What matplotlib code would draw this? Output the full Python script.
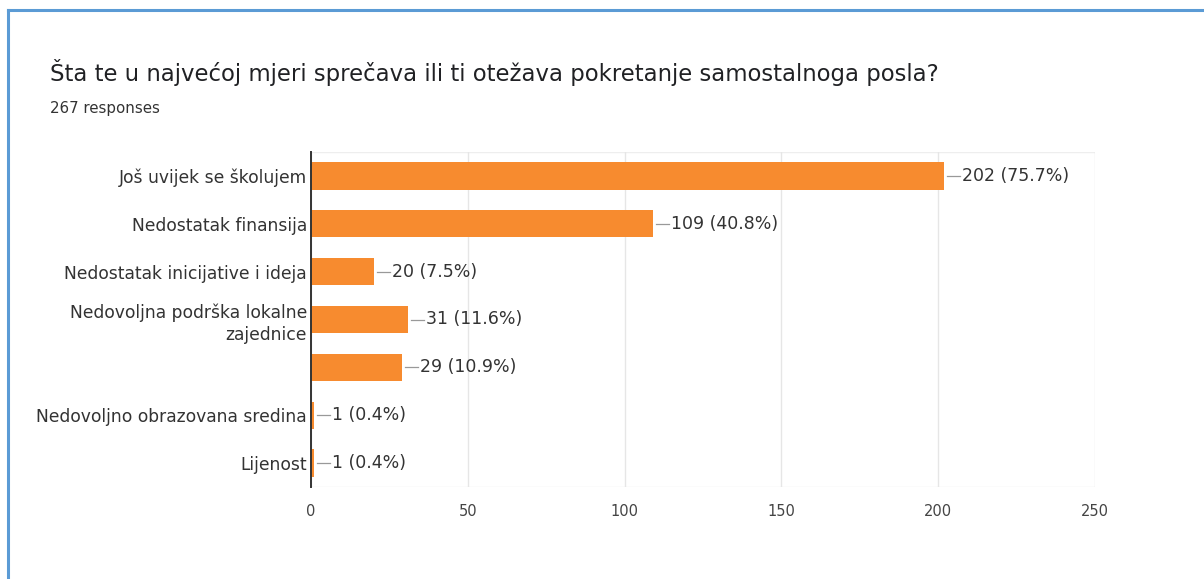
import matplotlib.pyplot as plt
from matplotlib.lines import Line2D

plt.rcParams["font.family"] = ["DejaVu Sans"]

categories = [
    "Još uvijek se školujem",
    "Nedostatak finansija",
    "Nedostatak inicijative i ideja",
    "Nedovoljna podrška lokalne\nzajednice",
    "",
    "Nedovoljno obrazovana sredina",
    "Lijenost",
]
counts = [202, 109, 20, 31, 29, 1, 1]
percents = [75.7, 40.8, 7.5, 11.6, 10.9, 0.4, 0.4]
x_ticks = [0, 50, 100, 150, 200, 250]

W, H = 1204, 579
fig = plt.figure(figsize=(W / 100, H / 100), dpi=100)

# card border (left + top only visible)
fig.add_artist(Line2D([8 / W, 8 / W], [0, 1 - 10 / H], color="#5b9bd5", lw=2.2))
fig.add_artist(Line2D([8 / W, 1], [1 - 10 / H, 1 - 10 / H], color="#5b9bd5", lw=2.2))

fig.text(50 / W, 1 - 73 / H, "Šta te u najvećoj mjeri sprečava ili ti otežava pokretanje samostalnoga posla?",
         fontsize=16.4, color="#202124", va="center", ha="left")
fig.text(50 / W, 1 - 108 / H, "267 responses", fontsize=10.8, color="#333333", va="center", ha="left")

left, right = 311 / W, 1095 / W
top, bottom = 1 - 152 / H, 1 - 487 / H
ax = fig.add_axes([left, bottom, right - left, top - bottom])

y = list(range(len(categories)))
ax.barh(y, counts, height=0.57, color="#f78b2f", zorder=3)
ax.set_ylim(len(categories) - 0.5, -0.5)
ax.set_xlim(0, 250)
ax.set_xticks(x_ticks)
ax.set_xticklabels([str(t) for t in x_ticks], fontsize=10.5, color="#444444")
ax.set_yticks(y)
ax.set_yticklabels(categories, fontsize=12.3, color="#333333", linespacing=1.3)
ax.tick_params(axis="both", length=0)
ax.tick_params(axis="x", pad=12)
ax.tick_params(axis="y", pad=3)

for s in ["top", "right", "bottom"]:
    ax.spines[s].set_visible(False)
ax.spines["left"].set_color("#333333")
ax.spines["left"].set_linewidth(1.4)
ax.spines["left"].set_zorder(5)

ax.grid(axis="x", color="#e6e6e6", lw=1, zorder=0)
ax.axhline(-0.5, color="#eeeeee", lw=1, zorder=0)
ax.axhline(len(categories) - 0.5, color="#eeeeee", lw=1, zorder=0)

# value labels with short leader lines
px = 250 / (1095 - 311)
for yi, c, p in zip(y, counts, percents):
    x0 = c + 3 * px
    x1 = c + 16 * px
    ax.plot([x0, x1], [yi, yi], color="#999999", lw=0.9, zorder=4)
    ax.text(x1 + 2 * px, yi, f"{c} ({p}%)", fontsize=12.5, color="#333333", va="center", ha="left")

fig.savefig("out.png", dpi=100)
